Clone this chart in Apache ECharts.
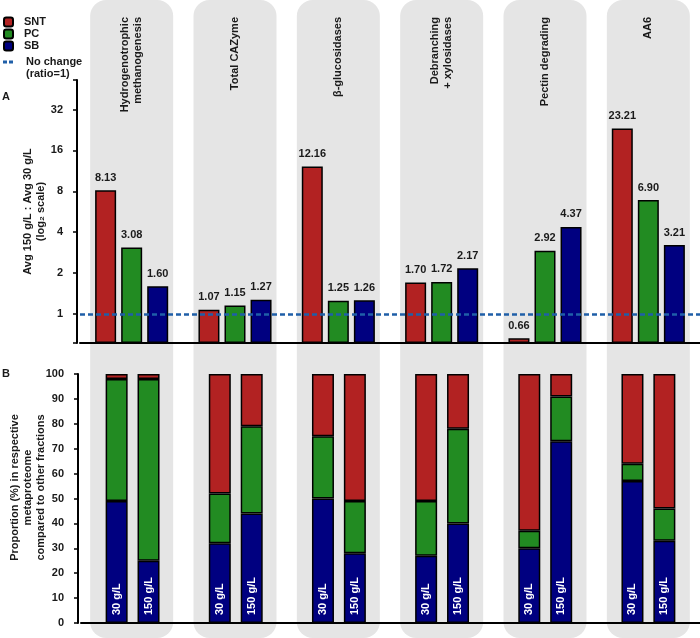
<!DOCTYPE html>
<html>
<head>
<meta charset="utf-8">
<script src="https://cdn.jsdelivr.net/npm/echarts@6/dist/echarts.min.js"></script>
<style>
  html, body { margin: 0; padding: 0; background: #fff; }
  #main { width: 700px; height: 638px; }
</style>
</head>
<body>
<div id="main"></div>
<script>
// categories (grey columns)
const categories = ['Hydrogenotrophic\nmethanogenesis', 'Total CAZyme', 'β-glucosidases',
  'Debranching\n+ xylosidases', 'Pectin degrading', 'AA6']

// A: avg 150 g/L : avg 30 g/L ratios
const ratioSNT = [8.13, 1.07, 12.16, 1.70, 0.66, 23.21]
const ratioPC = [3.08, 1.15, 1.25, 1.72, 2.92, 6.90]
const ratioSB = [1.60, 1.27, 1.26, 2.17, 4.37, 3.21]
const ratioTicks = [1, 2, 4, 8, 16, 32]

// B: proportion (%) per fraction
const concLabels = ['30 g/L', '150 g/L']
const sb30 = [49, 32, 50, 27, 30, 57]
const pc30 = [49, 20, 25, 22, 7, 7]
const snt30 = [2, 48, 25, 51, 63, 36]
const sb150 = [25, 44, 28, 40, 73, 33]
const pc150 = [73, 35, 21, 38, 18, 13]
const snt150 = [2, 21, 51, 22, 9, 54]

const RED = '#b22222', GREEN = '#228b22', BLUE = '#000080', DASH = '#1f5fa8'
const txt = { fontFamily: 'Liberation Sans', fontWeight: 'bold', fontSize: 11, color: '#1a1a1a' }
const barBorder = { borderColor: '#000', borderWidth: 1.5 }

function topBar(name, color, data) {
  return {
    name: name, type: 'bar', xAxisIndex: 0, yAxisIndex: 0, data: data,
    barWidth: 21, barGap: '24%', z: 2,
    itemStyle: Object.assign({ color: color }, barBorder),
    label: Object.assign({ show: true, position: 'top', distance: 7,
      formatter: p => p.value.toFixed(2) }, txt)
  }
}

function stackBar(name, color, data, stack, conc) {
  const s = {
    name: name, type: 'bar', xAxisIndex: 1, yAxisIndex: 1, data: data, stack: stack,
    barWidth: 22, barGap: '45%', z: 2,
    itemStyle: Object.assign({ color: color }, barBorder)
  }
  if (conc) {
    // concentration text sits inside the bottom (blue) segment
    s.label = Object.assign({}, txt, { show: true, color: '#fff', position: 'insideBottom', distance: 8,
      rotate: 90, align: 'left', verticalAlign: 'middle', formatter: conc })
  }
  return s
}

const axisLine = { show: true, lineStyle: { color: '#000', width: 2 } }
const axisTick = { show: true, length: 4, lineStyle: { color: '#000', width: 1.5 } }

const chart = echarts.init(document.getElementById('main'))
chart.setOption({
  animation: false,
  title: [
    { text: 'A', left: 2, top: 91, padding: 0, textStyle: txt },
    { text: 'B', left: 2, top: 368, padding: 0, textStyle: txt },
    { text: '(ratio=1)', left: 26, top: 68, padding: 0, textStyle: txt }
  ],
  legend: [
    {
      data: ['SNT', 'PC', 'SB'], orient: 'vertical', left: 3, top: 16, padding: 0,
      itemWidth: 9, itemHeight: 9, itemGap: 0, selectedMode: false,
      textStyle: Object.assign({ lineHeight: 12, padding: [0, 0, 0, 6] }, txt)
    },
    {
      data: [{ name: 'No change', icon: 'path://M0,0h4v3h-4z M6,0h4v3h-4z' }],
      left: 3, top: 56, padding: 0, itemWidth: 10, itemHeight: 3, selectedMode: false,
      textStyle: Object.assign({ lineHeight: 12, padding: [0, 0, 0, 8] }, txt)
    }
  ],
  grid: [
    { left: 80, right: -3, top: 80, height: 263 },
    { left: 80, right: -3, top: 374, height: 249 },
    { left: 80, right: -3, top: 0, bottom: 0 }
  ],
  xAxis: [
    { gridIndex: 0, type: 'category', data: categories, z: 5, axisLine: axisLine,
      axisTick: { show: false }, axisLabel: { show: false } },
    { gridIndex: 1, type: 'category', data: categories, z: 5, axisLine: axisLine,
      axisTick: { show: false }, axisLabel: { show: false } },
    { gridIndex: 2, type: 'category', data: categories, show: false }
  ],
  yAxis: [
    {
      gridIndex: 0, type: 'log', logBase: 2, min: 0.61, max: 52.8, startValue: 0.61,
      offset: 3, z: 5, splitLine: { show: false }, axisLine: axisLine, axisTick: axisTick,
      axisLabel: Object.assign({ margin: 14, formatter: v => {
        const t = ratioTicks.find(r => Math.abs(r - v) < 1e-6)
        return t ? String(t) : ''
      } }, txt),
      name: 'Avg 150 g/L : Avg 30 g/L\n(log₂ scale)', nameLocation: 'middle', nameGap: 30,
      nameMoveOverlap: false,
      nameTextStyle: Object.assign({ lineHeight: 13 }, txt)
    },
    {
      gridIndex: 1, type: 'value', min: 0, max: 100, interval: 10,
      offset: 3, z: 5, splitLine: { show: false }, axisLine: axisLine, axisTick: axisTick,
      axisLabel: Object.assign({ margin: 14 }, txt),
      name: 'Proportion (%) in respective\nmetaproteome\ncompared to other fractions',
      nameLocation: 'middle', nameGap: 31, nameMoveOverlap: false,
      nameTextStyle: Object.assign({ lineHeight: 13, padding: [0, 0, 0, 22] }, txt)
    },
    { gridIndex: 2, type: 'value', min: 0, max: 1, show: false }
  ],
  series: [
    // grey rounded columns behind both panels, with the category titles
    {
      type: 'bar', xAxisIndex: 2, yAxisIndex: 2, data: categories.map(() => 1),
      barWidth: 83, silent: true, z: 1,
      itemStyle: { color: '#e5e5e5', borderRadius: 16 },
      label: Object.assign({ show: true, position: 'insideTop', distance: 17, rotate: 90,
        align: 'right', verticalAlign: 'middle', lineHeight: 13, formatter: '{b}' }, txt)
    },
    topBar('SNT', RED, ratioSNT),
    topBar('PC', GREEN, ratioPC),
    topBar('SB', BLUE, ratioSB),
    {
      name: 'No change', type: 'line', xAxisIndex: 0, yAxisIndex: 0, data: [],
      z: 4, itemStyle: { color: DASH }, lineStyle: { color: DASH },
      markLine: {
        silent: true, symbol: 'none', label: { show: false },
        lineStyle: { color: DASH, type: [5, 3], width: 2.5 },
        data: [{ yAxis: 1 }]
      }
    },
    stackBar('SB', BLUE, sb30, 'c30', concLabels[0]),
    stackBar('PC', GREEN, pc30, 'c30'),
    stackBar('SNT', RED, snt30, 'c30'),
    stackBar('SB', BLUE, sb150, 'c150', concLabels[1]),
    stackBar('PC', GREEN, pc150, 'c150'),
    stackBar('SNT', RED, snt150, 'c150')
  ]
})
</script>
</body>
</html>
